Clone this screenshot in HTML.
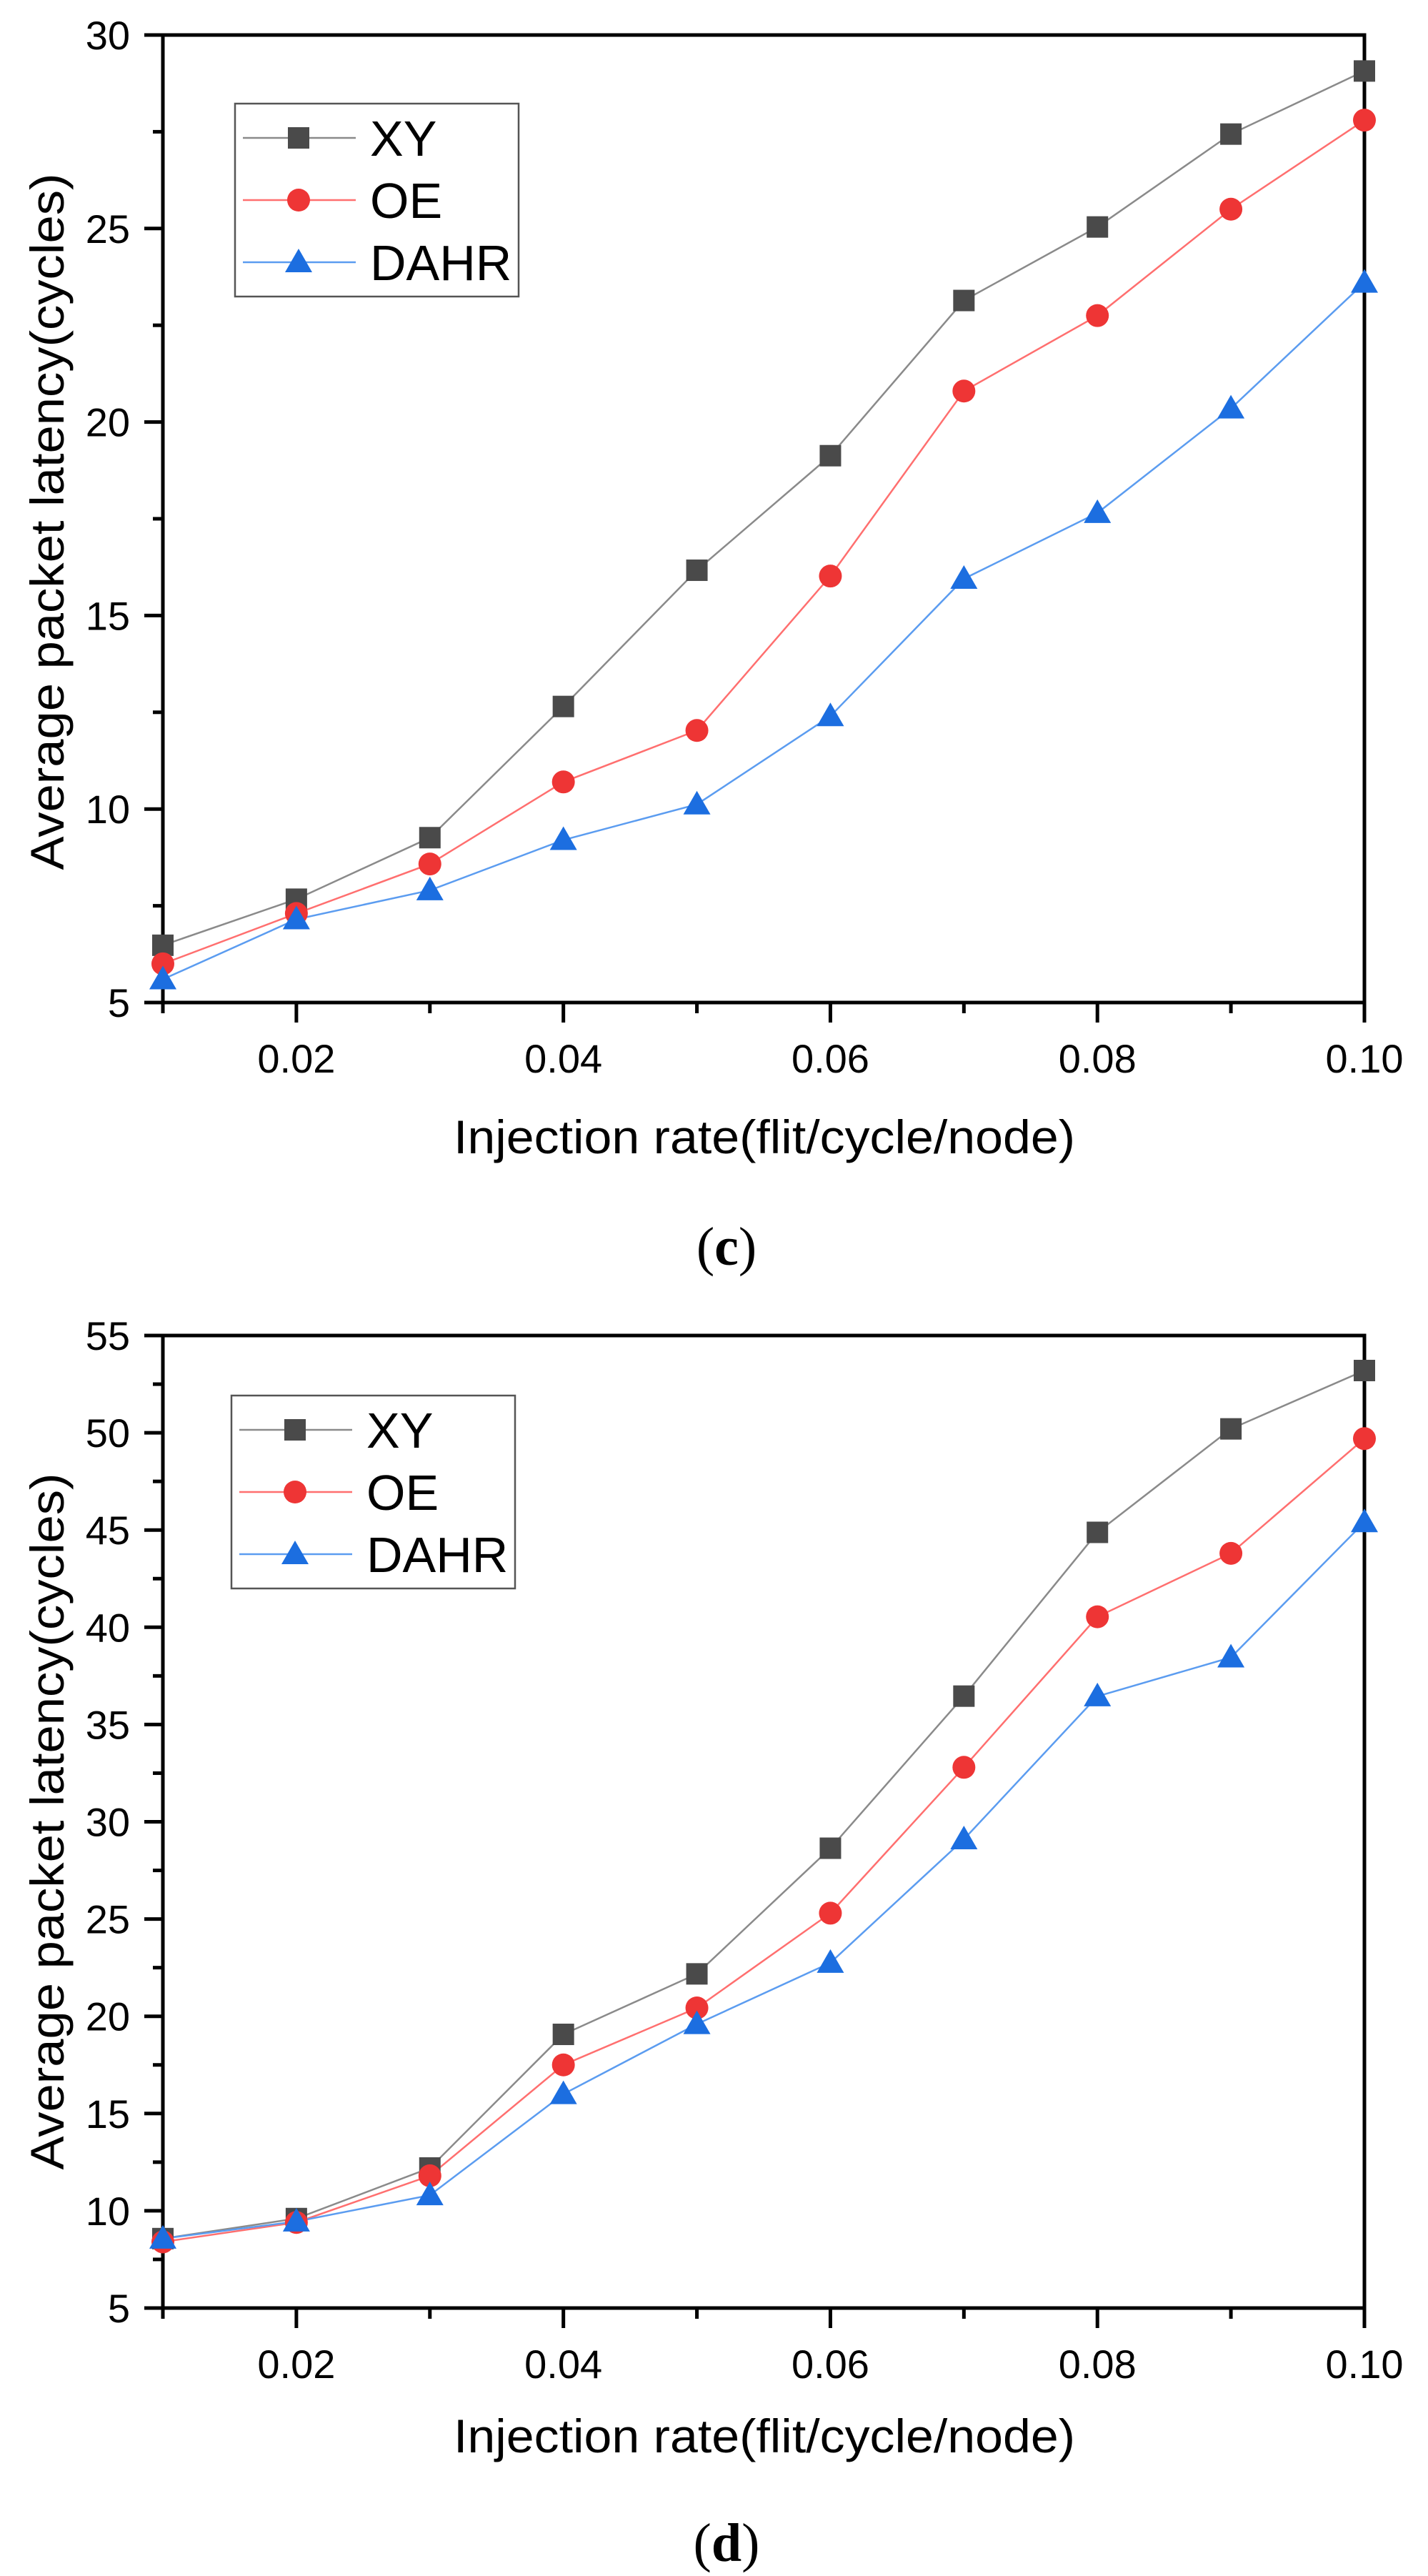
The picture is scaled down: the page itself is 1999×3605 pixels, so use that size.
<!DOCTYPE html>
<html><head><meta charset="utf-8"><style>
html,body{margin:0;padding:0;background:#fff;}
svg{display:block;font-family:"Liberation Sans",Arial,sans-serif;}
</style></head>
<body>
<svg id="fig" width="1999" height="3605" viewBox="0 0 1999 3605" xmlns="http://www.w3.org/2000/svg"></svg>
<script>
const categories = [0.01,0.02,0.03,0.04,0.05,0.06,0.07,0.08,0.09,0.10];
const xTickLabels = ["0.02","0.04","0.06","0.08","0.10"];
const xTickValues = [0.02,0.04,0.06,0.08,0.10];
const seriesNames = ["XY","OE","DAHR"];
// chart (c)
const cXY   = [6.48,7.67,9.26,12.65,16.17,19.13,23.14,25.04,27.44,29.07];
const cOE   = [6.0,7.3,8.58,10.7,12.03,16.02,20.8,22.75,25.5,27.8];
const cDAHR = [5.6,7.15,7.9,9.2,10.12,12.4,15.95,17.65,20.35,23.6];
const cYTicks = [5,10,15,20,25,30];
// chart (d)
const dXY   = [8.57,9.6,12.2,19.07,22.18,28.64,36.46,44.88,50.2,53.2];
const dOE   = [8.4,9.4,11.8,17.5,20.43,25.3,32.8,40.54,43.8,49.7];
const dDAHR = [8.57,9.45,10.8,16.0,19.6,22.75,29.1,36.45,38.45,45.4];
const dYTicks = [5,10,15,20,25,30,35,40,45,50,55];

const NS="http://www.w3.org/2000/svg";
const svg=document.getElementById('fig');
function el(tag,attrs,parent,text){const e=document.createElementNS(NS,tag);for(const k in attrs)e.setAttribute(k,attrs[k]);if(text!==undefined)e.textContent=text;(parent||svg).appendChild(e);return e;}

const styles=[
 {line:"#8a8a8a",fill:"#4a4a4a",shape:"square"},
 {line:"#ff6f6f",fill:"#ee3535",shape:"circle"},
 {line:"#5b9cf0",fill:"#1c6ee0",shape:"tri"}];

function marker(g,shape,cx,cy,fill,name){
  let m;
  if(shape==="square") m=el('rect',{x:cx-15,y:cy-15,width:30,height:30,fill:fill},g);
  else if(shape==="circle") m=el('circle',{cx:cx,cy:cy,r:16,fill:fill},g);
  else m=el('polygon',{points:`${cx},${cy-19} ${cx+19},${cy+14} ${cx-19},${cy+14}`,fill:fill},g);
  
  
  return m;
}

function chart(o){
  const g=el('g',{});
  
  
  const L=228,R=1910,T=o.top,B=o.bottom;
  const xs=v=>L+(v-0.01)/(0.09)*(R-L);
  const ys=v=>B-(v-o.ymin)/(o.ymax-o.ymin)*(B-T);
  // frame
  const fr=el('rect',{x:L,y:T,width:R-L,height:B-T,fill:"none",stroke:"#000","stroke-width":5},g);
  
  
  // y ticks
  o.yTicks.forEach((v,i)=>{
    const y=ys(v);
    const t=el('line',{x1:L-26,x2:L,y1:y,y2:y,stroke:"#000","stroke-width":5},g);
    
    
    const lb=el('text',{x:182,y:y+20,"font-size":56,"text-anchor":"end",fill:"#000"},g,String(v));
    
    
    if(i<o.yTicks.length-1){
      const ym=ys(v+2.5);
      const mt=el('line',{x1:L-14,x2:L,y1:ym,y2:ym,stroke:"#000","stroke-width":5},g);
      
      
    }
  });
  // x ticks
  categories.forEach(v=>{
    const x=xs(v);
    const major=xTickValues.some(t=>Math.abs(t-v)<1e-9);
    const t=el('line',{x1:x,x2:x,y1:B,y2:B+(major?28:15),stroke:"#000","stroke-width":5},g);
    
    
  });
  xTickValues.forEach((v,i)=>{
    const lb=el('text',{x:xs(v),y:B+98,"font-size":56,"text-anchor":"middle",fill:"#000"},g,xTickLabels[i]);
    
    
  });
  // series
  o.series.forEach((data,si)=>{
    const st=styles[si];
    const sg=el('g',{},g);
    
    
    const pts=data.map((v,i)=>xs(categories[i])+","+ys(v)).join(" ");
    const pl=el('polyline',{points:pts,fill:"none",stroke:st.line,"stroke-width":2.5},sg);
    
    
  });
  o.series.forEach((data,si)=>{
    const st=styles[si];
    data.forEach((v,i)=>marker(g,st.shape,xs(categories[i]),ys(v),st.fill,'data-point'));
  });
  // legend
  const lg=el('g',{},g);
  
  
  const lbx=el('rect',{x:o.lx,y:o.ly,width:397,height:270,fill:"#fff",stroke:"#555","stroke-width":2.5},lg);
  
  
  seriesNames.forEach((n,i)=>{
    const cy=o.ly+48+i*87;
    const e=el('g',{},lg);
    
    
    el('line',{x1:o.lx+11,x2:o.lx+169,y1:cy,y2:cy,stroke:styles[i].line,"stroke-width":2.5},e);
    marker(e,styles[i].shape,o.lx+89,cy,styles[i].fill,'legend-marker');
    const t=el('text',{x:o.lx+189,y:cy+25,"font-size":70,fill:"#000"},e,n);
    
    
  });
  // axis titles
  const xt=el('text',{x:1070,y:o.xTitleY,"font-size":66,"text-anchor":"middle",fill:"#000",textLength:870,lengthAdjust:"spacingAndGlyphs"},g,"Injection rate(flit/cycle/node)");
  
  
  const yt=el('text',{x:0,y:0,"font-size":66,"text-anchor":"middle",fill:"#000",textLength:975,lengthAdjust:"spacingAndGlyphs",transform:`translate(89,${o.yTitleC}) rotate(-90)`},g,"Average packet latency(cycles)");
  
  
  const cap=el('text',{x:1017,y:o.capY,"font-size":76,"text-anchor":"middle",fill:"#000","font-family":"Liberation Serif, serif"},g);
  
  
  el('tspan',{},cap,"(");
  el('tspan',{"font-weight":"bold"},cap,o.cap);
  el('tspan',{},cap,")");
}

chart({name:"chart-c",top:49,bottom:1403,ymin:5,ymax:30,yTicks:cYTicks,series:[cXY,cOE,cDAHR],lx:329,ly:145,xTitleY:1614,yTitleC:730,capY:1770,cap:"c"});
chart({name:"chart-d",top:1869,bottom:3230,ymin:5,ymax:55,yTicks:dYTicks,series:[dXY,dOE,dDAHR],lx:324,ly:1953,xTitleY:3432,yTitleC:2549,capY:3584,cap:"d"});
</script>
</body></html>
